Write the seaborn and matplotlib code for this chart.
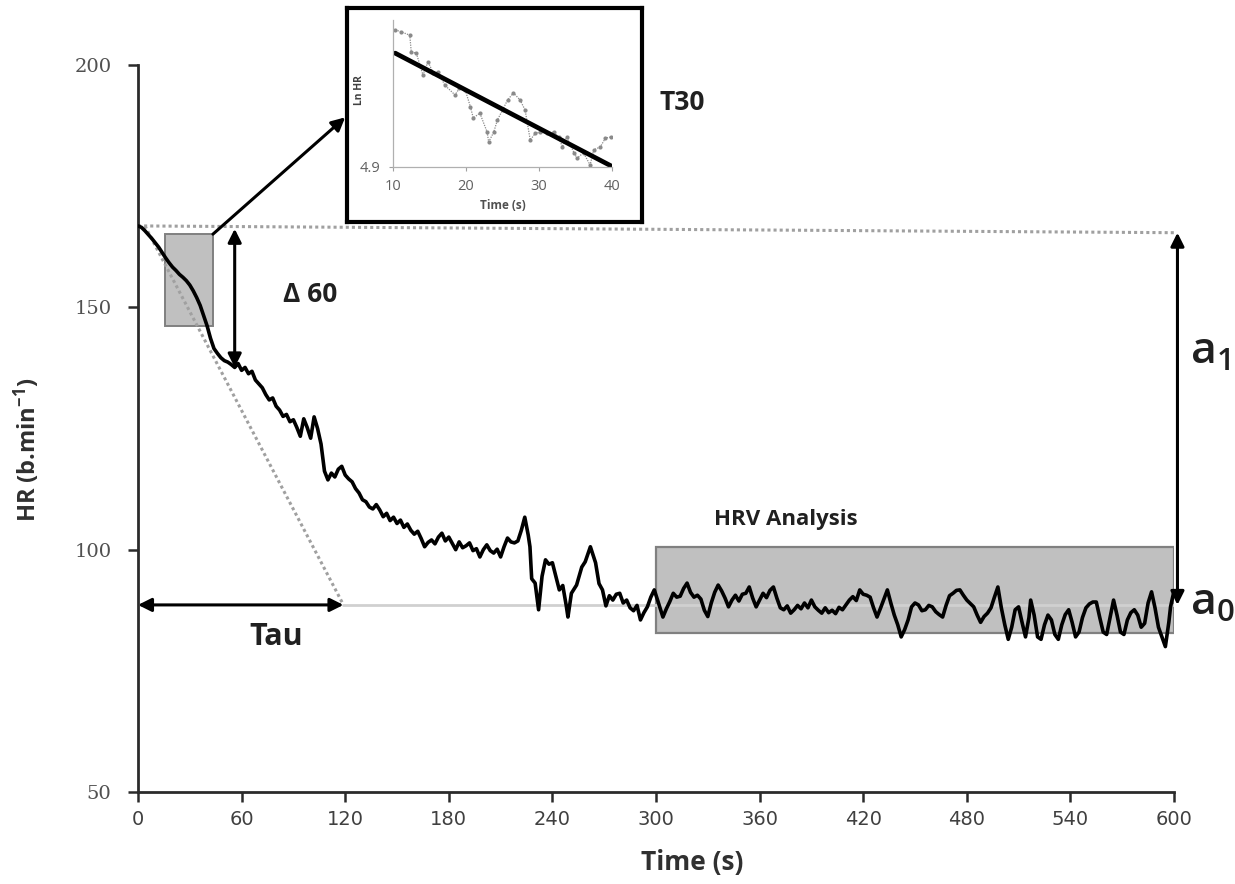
import matplotlib
matplotlib.use("Agg")
import matplotlib.pyplot as plt
import seaborn as sns
import pandas as pd
from matplotlib.patches import Rectangle

# Heart-rate recovery trace (s, beats per minute)
time_s = [0, 2, 4, 6, 8, 10, 12, 14, 16, 18, 20, 22, 24, 26, 28, 30, 32, 34, 36, 38,
          40, 42, 44, 46, 48, 50, 52, 54, 56, 58, 60, 62, 64, 66, 68, 70, 72, 74, 76, 78,
          80, 82, 84, 86, 88, 90, 92, 94, 96, 98, 100, 102, 104, 106, 108, 110, 112, 114, 116, 118,
          120, 122, 124, 126, 128, 130, 132, 134, 136, 138, 140, 142, 144, 146, 148, 150, 152, 154, 156, 158,
          160, 162, 164, 166, 168, 170, 172, 174, 176, 178, 180, 182, 184, 186, 188, 190, 192, 194, 196, 198,
          200, 202, 204, 206, 208, 210, 212, 214, 216, 218, 220, 222, 224, 226, 227, 228, 230, 232, 234, 236,
          238, 240, 242, 244, 246, 248, 249, 251, 254, 257, 259, 262, 265, 267, 269, 271, 273, 275, 277, 279,
          281, 283, 285, 287, 289, 291, 293, 295, 297, 299, 301, 304, 306, 308, 310, 312, 314, 316, 318, 320,
          322, 324, 326, 328, 330, 332, 334, 336, 338, 340, 342, 344, 346, 348, 350, 352, 354, 356, 358, 360,
          362, 364, 366, 368, 370, 372, 374, 376, 378, 380, 382, 384, 386, 388, 390, 392, 394, 396, 398, 400,
          402, 404, 406, 408, 410, 412, 414, 416, 418, 420, 422, 424, 426, 428, 430, 432, 434, 436, 438, 440,
          442, 444, 446, 448, 450, 452, 454, 456, 458, 460, 462, 464, 466, 468, 470, 472, 474, 476, 478, 480,
          482, 484, 486, 488, 490, 492, 494, 496, 498, 500, 502, 504, 506, 508, 510, 512, 514, 516, 517, 519,
          521, 523, 525, 527, 529, 531, 533, 535, 537, 539, 541, 543, 545, 547, 549, 551, 553, 555, 557, 559,
          561, 563, 565, 567, 569, 571, 573, 575, 577, 579, 581, 583, 585, 587, 589, 591, 593, 595, 597, 598,
          600]
heart_rate = [166.8, 166.5, 165.8, 165.0, 164.2, 163.3, 162.4, 161.3, 160.2, 159.2,
              158.3, 157.6, 156.8, 156.2, 155.5, 154.6, 153.4, 152.0, 150.4, 148.3,
              146.2, 143.6, 141.5, 140.5, 139.6, 139.0, 138.7, 138.2, 137.6, 138.4,
              137.0, 137.6, 136.3, 136.8, 135.0, 134.2, 133.4, 132.0, 130.9, 131.3,
              129.6, 128.8, 127.5, 127.9, 126.4, 126.8, 125.2, 123.4, 127.0, 125.2,
              123.0, 127.4, 125.0, 121.8, 116.2, 114.4, 115.8, 115.0, 116.6, 117.2,
              115.4, 114.6, 114.0, 112.6, 111.7, 110.3, 109.9, 108.8, 108.4, 109.3,
              108.2, 106.8, 107.5, 106.0, 106.7, 105.4, 106.1, 104.6, 105.3, 104.0,
              103.2, 103.8, 102.3, 100.6, 101.5, 102.0, 101.2, 102.6, 103.4, 101.8,
              102.6, 101.3, 100.0, 101.6, 100.4, 100.8, 101.4, 99.8, 100.2, 98.5,
              100.0, 101.0, 99.8, 99.3, 100.1, 98.5, 100.6, 102.4, 101.6, 101.4,
              101.8, 104.0, 106.7, 103.0, 100.6, 94.0, 93.1, 87.6, 94.5, 97.9,
              97.0, 97.3, 94.5, 91.7, 92.6, 88.5, 86.1, 91.0, 92.7, 96.4,
              97.5, 100.6, 97.3, 93.0, 91.7, 88.4, 90.5, 89.6, 90.8, 91.0,
              89.0, 89.6, 88.0, 87.4, 88.5, 85.5, 87.0, 88.2, 90.2, 91.7,
              89.5, 86.1, 87.8, 89.3, 91.0, 90.2, 90.4, 92.0, 93.1, 91.2,
              90.2, 90.6, 89.8, 87.5, 86.2, 89.0, 91.2, 92.7, 91.5, 90.0,
              88.2, 89.6, 90.6, 89.4, 90.8, 91.0, 92.3, 90.0, 88.2, 89.6,
              91.0, 90.1, 91.6, 92.3, 90.0, 88.0, 87.6, 88.4, 86.9, 87.6,
              88.5, 87.8, 89.0, 88.0, 89.6, 88.2, 87.5, 86.9, 88.0, 87.0,
              87.5, 86.8, 88.1, 87.6, 88.6, 89.6, 90.3, 89.5, 91.7, 90.8,
              90.6, 90.2, 88.0, 86.1, 87.9, 89.8, 91.7, 89.0, 86.5, 84.5,
              82.0, 83.5, 85.5, 88.2, 89.0, 88.6, 87.4, 87.6, 88.5, 88.2,
              87.2, 86.6, 86.1, 88.5, 90.5, 91.0, 91.6, 91.7, 90.6, 89.6,
              88.9, 88.2, 86.5, 85.0, 86.2, 86.9, 88.0, 90.2, 92.3, 88.0,
              84.5, 81.5, 84.0, 87.6, 88.2, 85.0, 82.0, 86.0, 89.6, 86.5,
              82.0, 81.5, 84.5, 86.5, 85.5, 82.5, 81.5, 84.5, 86.6, 87.6,
              85.0, 82.0, 83.0, 86.0, 88.0, 88.8, 89.2, 89.2, 86.0, 83.0,
              82.5, 86.0, 89.6, 86.5, 83.0, 82.5, 85.5, 87.0, 87.6, 86.5,
              84.0, 84.8, 89.0, 91.3, 88.0, 84.0, 82.0, 80.0, 85.0, 88.2,
              91.5]

# Natural-log HR over the 10-40 s window used for T30
t30_time = [10.3, 11.1, 12.3, 12.5, 13.2, 14.1, 14.8, 15.5, 16.2, 17.1, 18.5, 19.1, 19.9,
            20.6, 21.0, 21.9, 22.9, 23.1, 23.8, 24.3, 25.0, 25.7, 26.5, 27.4, 28.1, 28.8,
            29.5, 30.2, 31.1, 32.0, 32.7, 33.2, 33.8, 34.8, 35.2, 36.1, 37.0, 37.5, 38.4,
            39.1, 39.8]
t30_ln_hr = [5.180, 5.176, 5.169, 5.135, 5.132, 5.088, 5.115, 5.092, 5.094, 5.067, 5.047,
             5.061, 5.057, 5.023, 5.000, 5.010, 4.971, 4.951, 4.971, 4.996, 5.016, 5.037,
             5.051, 5.037, 5.016, 4.955, 4.969, 4.971, 4.969, 4.971, 4.961, 4.941, 4.961,
             4.929, 4.918, 4.929, 4.904, 4.935, 4.941, 4.959, 4.961]

x_ticks = [0, 60, 120, 180, 240, 300, 360, 420, 480, 540, 600]
y_ticks = [50, 100, 150, 200]
inset_x_ticks = [10, 20, 30, 40]

# Reference levels
hr_peak_left, hr_peak_right = 166.8, 165.4
hr_asymptote = 88.6
tau_end = 119
hr_at_60 = 137.6
t30_box = (15.6, 43.4, 146.2, 165.1)
hrv_box = (300, 600, 82.8, 100.6)

sns.set_theme(style="white")
plt.rcParams["font.family"] = ["Open Sans", "DejaVu Sans"]
plt.rcParams["mathtext.default"] = "regular"

W, H = 1235, 884
fig = plt.figure(figsize=(W / 100, H / 100), dpi=100)


def fx(px):
    return px / W


def fy(py):
    return 1 - py / H


ax = fig.add_axes([fx(138), fy(792), (1174 - 138) / W, (792 - 65) / H])
df = pd.DataFrame({"Time (s)": time_s, "HR": heart_rate})

grey_box = "#c0c0c0"
box_edge = "#808080"
dot_grey = "#a0a0a0"

# shaded windows
ax.add_patch(Rectangle((hrv_box[0], hrv_box[2]), hrv_box[1] - hrv_box[0], hrv_box[3] - hrv_box[2],
                       facecolor=grey_box, edgecolor=box_edge, lw=1.6, zorder=1))
ax.add_patch(Rectangle((t30_box[0], t30_box[2]), t30_box[1] - t30_box[0], t30_box[3] - t30_box[2],
                       facecolor=grey_box, edgecolor=box_edge, lw=1.4, zorder=1))

# reference lines
ax.plot([0, 600], [hr_peak_left, hr_peak_right], color=dot_grey, lw=2.2,
        linestyle=(0, (1, 1)), zorder=2, clip_on=False)
ax.plot([4, tau_end], [hr_peak_left, hr_asymptote], color=dot_grey, lw=2.2,
        linestyle=(0, (1, 1)), zorder=2)
ax.plot([tau_end, 600], [hr_asymptote, hr_asymptote], color="#d0d0d0", lw=2.0, zorder=2)

sns.lineplot(data=df, x="Time (s)", y="HR", ax=ax, color="black", lw=2.6, zorder=3)

ax.set_xlim(0, 600)
ax.set_ylim(50, 200)
ax.set_xticks(x_ticks)
ax.set_yticks(y_ticks)
ax.set_xticklabels([str(v) for v in x_ticks], family=["Liberation Sans Narrow", "DejaVu Sans"],
                   fontsize=14, color="#404040")
ax.set_yticklabels([str(v) for v in y_ticks], family=["DejaVu Serif", "DejaVu Sans"],
                   fontsize=14, color="#505050")
ax.tick_params(axis="both", direction="out", length=7, width=1.8, color="#2b2b2b", pad=6,
               bottom=True, left=True)
ax.tick_params(axis="y", pad=12)
for side in ("top", "right"):
    ax.spines[side].set_visible(False)
for side in ("left", "bottom"):
    ax.spines[side].set_color("#2b2b2b")
    ax.spines[side].set_linewidth(2)
ax.set_xlabel("Time (s)", fontsize=19, fontweight="bold", color="#303030")
ax.xaxis.set_label_coords(0.535, -0.078)
ax.set_ylabel("HR (b.min$^{-1}$)", fontsize=17, fontweight="bold", color="#303030")
ax.yaxis.set_label_coords(-0.093, 0.47)

arrow_kw = dict(arrowstyle="<|-|>", color="black", lw=2.2, mutation_scale=20,
                shrinkA=0, shrinkB=0)
# Tau
ax.annotate("", xy=(0, hr_asymptote), xytext=(tau_end, hr_asymptote), arrowprops=arrow_kw,
            annotation_clip=False)
# Delta 60
ax.annotate("", xy=(56, hr_peak_left - 0.6), xytext=(56, hr_at_60), arrowprops=arrow_kw)
# a1 amplitude
ax.annotate("", xy=(602, hr_peak_right), xytext=(602, hr_asymptote), arrowprops=arrow_kw,
            annotation_clip=False)
# link from T30 window to the inset
ax.annotate("", xy=(120, 189.2), xytext=(t30_box[1], t30_box[3]),
            arrowprops=dict(arrowstyle="-|>", color="black", lw=2.2, mutation_scale=20,
                            shrinkA=0, shrinkB=0), annotation_clip=False)

fig.text(fx(310), fy(295), "Δ 60", fontsize=19, fontweight="bold", ha="center", va="center",
         color="#202020")
fig.text(fx(276), fy(637), "Tau", fontsize=22, fontweight="bold", ha="center", va="center",
         color="#202020")
fig.text(fx(786), fy(520), "HRV Analysis", fontsize=16, fontweight="bold", ha="center",
         va="center", color="#202020")
fig.text(fx(682), fy(103), "T30", fontsize=19, fontweight="bold", ha="center", va="center",
         color="#202020")
fig.text(fx(1190), fy(352), "a$_1$", fontsize=32, ha="left", va="center", color="#202020",
         fontweight="semibold")
fig.text(fx(1190), fy(603), "a$_0$", fontsize=32, ha="left", va="center", color="#202020",
         fontweight="semibold")

# T30 inset
frame = fig.add_axes([fx(347), fy(222), (642 - 347) / W, (222 - 8) / H])
frame.set_xticks([])
frame.set_yticks([])
frame.set_facecolor("white")
for sp in frame.spines.values():
    sp.set_linewidth(3)
    sp.set_color("black")

inset = fig.add_axes([fx(393), fy(167), (612 - 393) / W, (167 - 20) / H])
inset.set_facecolor("none")
sns.lineplot(x=t30_time, y=t30_ln_hr, ax=inset, color="#8a8a8a", lw=0.9,
             marker="o", markersize=3, markeredgewidth=0, linestyle=(0, (1, 1)))
sns.regplot(x=t30_time, y=t30_ln_hr, ax=inset, scatter=False, ci=None,
            line_kws=dict(color="black", lw=3.4))
inset.set_xlim(10, 40)
inset.set_ylim(4.9, 5.2)
inset.set_xticks(inset_x_ticks)
inset.set_yticks([4.9])
inset.set_xticklabels([str(v) for v in inset_x_ticks], fontsize=10.5, color="#606060")
inset.set_yticklabels(["4.9"], fontsize=10.5, color="#606060")
inset.tick_params(axis="both", direction="out", length=3, width=0.8, color="#a0a0a0", pad=6,
                  bottom=True, left=True)
for side in ("top", "right"):
    inset.spines[side].set_visible(False)
for side in ("left", "bottom"):
    inset.spines[side].set_color("#b0b0b0")
    inset.spines[side].set_linewidth(0.9)
inset.set_xlabel("Time (s)", fontsize=8.5, fontweight="bold", color="#505050", labelpad=3)
inset.set_ylabel("Ln HR", fontsize=7.5, fontweight="bold", color="#404040")
inset.yaxis.set_label_coords(-0.13, 0.52)

fig.savefig("out.png", dpi=100)
